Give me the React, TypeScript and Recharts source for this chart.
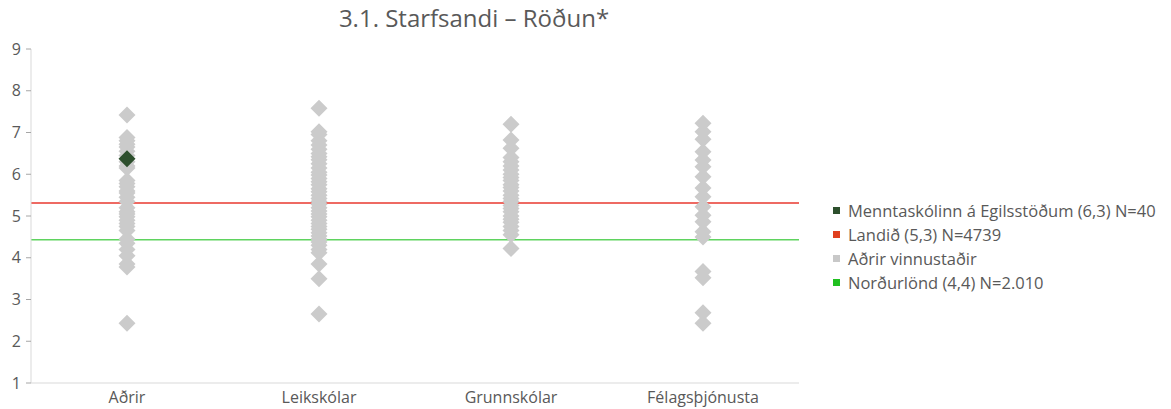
import React from 'react';
import {
  ScatterChart,
  Scatter,
  XAxis,
  YAxis,
  ReferenceLine,
  Legend,
} from 'recharts';

const categories = ['Aðrir', 'Leikskólar', 'Grunnskólar', 'Félagsþjónusta'];

const adrirValues = [
  7.42, 6.88, 6.8, 6.72, 6.65, 6.55, 6.45, 6.3, 6.2, 6.15, 5.85, 5.78, 5.7, 5.6,
  5.55, 5.45, 5.35, 5.2, 5.1, 5.05, 4.98, 4.9, 4.82, 4.75, 4.65, 4.45, 4.35, 4.2,
  4.05, 3.85, 3.78, 2.43,
];
const leikskolarValues = [
  7.58, 7.02, 6.95, 6.8, 6.7, 6.6, 6.5, 6.42, 6.35, 6.25, 6.15, 6.05, 5.98, 5.9,
  5.82, 5.75, 5.65, 5.58, 5.5, 5.42, 5.35, 5.28, 5.2, 5.12, 5.05, 4.98, 4.9, 4.82,
  4.75, 4.68, 4.6, 4.52, 4.45, 4.38, 4.3, 4.2, 4.12, 3.85, 3.5, 2.65,
];
const grunnskolarValues = [
  7.2, 6.82, 6.62, 6.4, 6.3, 6.2, 6.1, 6.0, 5.92, 5.85, 5.75, 5.68, 5.6, 5.5, 5.42,
  5.35, 5.25, 5.18, 5.1, 5.0, 4.92, 4.85, 4.75, 4.65, 4.55, 4.22,
];
const felagsValues = [
  7.22, 7.02, 6.84, 6.54, 6.34, 6.18, 5.94, 5.67, 5.46, 5.22, 5.02, 4.86, 4.62, 4.5,
  3.67, 3.52, 2.68, 2.43,
];

const schoolCategory = 'Aðrir';
const schoolValue = 6.37;
const landidValue = 5.31;
const nordurlondValue = 4.43;

const yTicks = [1, 2, 3, 4, 5, 6, 7, 8, 9];

const legendItems = [
  { label: 'Menntaskólinn á Egilsstöðum (6,3) N=40', color: '#2d4f2d' },
  { label: 'Landið (5,3) N=4739', color: '#e0401f' },
  { label: 'Aðrir vinnustaðir', color: '#c8c8c8' },
  { label: 'Norðurlönd (4,4) N=2.010', color: '#20c020' },
];

const allValues = [adrirValues, leikskolarValues, grunnskolarValues, felagsValues];

const otherData = allValues.flatMap((vals, i) => vals.map((v) => ({ x: i + 0.5, y: v })));
const schoolData = [{ x: categories.indexOf(schoolCategory) + 0.5, y: schoolValue }];

const FONT = '"Open Sans", "Noto Sans", sans-serif';

const Diamond = (props: any) => {
  const { cx, cy, fill, r = 8.5 } = props;
  if (cx == null || cy == null) return null;
  return (
    <polygon
      points={`${cx},${cy - r} ${cx + r},${cy} ${cx},${cy + r} ${cx - r},${cy}`}
      fill={fill}
    />
  );
};

const renderLegend = () => (
  <div style={{ fontFamily: FONT, fontSize: 16.5, color: '#595959', whiteSpace: 'nowrap' }}>
    {legendItems.map((item) => (
      <div key={item.label} style={{ display: 'flex', alignItems: 'center', height: 24 }}>
        <span
          style={{ width: 7, height: 7, background: item.color, marginRight: 8, display: 'inline-block' }}
        />
        {item.label}
      </div>
    ))}
  </div>
);

export default function App() {
  return (
    <div style={{ position: 'relative', width: 1155, height: 401 }}>
      <div
        style={{
          position: 'absolute',
          top: -7,
          left: 0,
          width: 932,
          textAlign: 'center',
          fontFamily: FONT,
          fontSize: 24,
          color: '#595959',
        }}
      >
        3.1. Starfsandi – Röðun*
      </div>
      <ScatterChart width={1155} height={401} margin={{ top: 41, right: 364, bottom: 0, left: 0 }}>
        <XAxis
          type="number"
          dataKey="x"
          domain={[0, 4]}
          ticks={[0.5, 1.5, 2.5, 3.5]}
          tickFormatter={(v: number) => categories[Math.floor(v)]}
          tickLine={false}
          axisLine={{ stroke: '#d9d9d9' }}
          height={26}
          tick={{ fill: '#595959', fontSize: 16, fontFamily: FONT }}
          tickMargin={3}
        />
        <YAxis
          type="number"
          dataKey="y"
          domain={[1, 9]}
          ticks={yTicks}
          width={23}
          tickSize={5}
          tickMargin={5}
          tickLine={{ stroke: '#a6a6a6' }}
          axisLine={{ stroke: '#d9d9d9' }}
          tick={{ fill: '#595959', fontSize: 16, fontFamily: FONT }}
        />
        <ReferenceLine y={landidValue} stroke="#e8392f" strokeWidth={1.5} />
        <ReferenceLine y={nordurlondValue} stroke="#5fd35f" strokeWidth={1.5} />
        <Scatter
          name="Aðrir vinnustaðir"
          data={otherData}
          fill="#cbcbcb"
          shape={<Diamond />}
          isAnimationActive={false}
        />
        <Scatter
          name="Menntaskólinn á Egilsstöðum"
          data={schoolData}
          fill="#2d4f2d"
          shape={<Diamond />}
          isAnimationActive={false}
        />
        <Legend
          content={renderLegend}
          layout="horizontal"
          verticalAlign="middle"
          align="center"
          wrapperStyle={{ left: 825, top: 190, width: 340 }}
        />
      </ScatterChart>
    </div>
  );
}
